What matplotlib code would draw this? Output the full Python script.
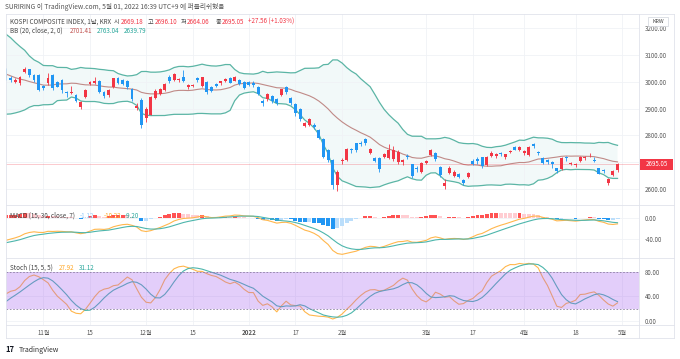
import numpy as np
import pandas as pd
import matplotlib
matplotlib.use("Agg")
import matplotlib.pyplot as plt
from matplotlib.patches import Rectangle
from matplotlib.lines import Line2D

plt.rcParams['font.family'] = ['Noto Sans CJK KR', 'DejaVu Sans']

# ---- off-screen history (only to seed the indicators) ----
seed_close = [3282, 3281, 3293, 3305, 3285, 3252, 3217, 3246, 3271, 3264, 3286, 3276, 3244, 3232,
              3216, 3250, 3254, 3224, 3232, 3236, 3242, 3202,
              3223, 3237, 3280, 3276, 3270, 3260, 3243, 3220, 3208, 3171, 3143, 3158, 3097, 3060,
              3090, 3138, 3129, 3128, 3133, 3144, 3199]
warm_close = [3207, 3175, 3201, 3203, 3187, 3162, 3114, 3125, 3127, 3148, 3153, 3130, 3140, 3127,
              3125, 3133, 3097, 3060, 3068, 3019, 2962, 2908, 2959, 2956, 2916, 2944, 2988, 3015,
              3006, 3013]
warm_high = [3210, 3210, 3205, 3215, 3205, 3190, 3160, 3135, 3140, 3155, 3160, 3155, 3150, 3140,
             3135, 3145, 3135, 3090, 3090, 3068, 3020, 2970, 2975, 2965, 2960, 2950, 2990, 3020,
             3035, 3020]
warm_low = [3170, 3170, 3185, 3195, 3175, 3155, 3105, 3110, 3110, 3120, 3140, 3125, 3120, 3110,
            3110, 3105, 3090, 3040, 3045, 3015, 2955, 2900, 2920, 2940, 2910, 2915, 2955, 2995,
            3000, 2995]

# ---- visible daily bars (2021-10-20 .. 2022-04-29) ----
opens = [3046, 3016, 3001, 2998, 3036, 3047, 3025, 3026, 2985, 2995,
         3026, 3000, 3006, 2964, 2960, 2950, 2908, 2945, 2993, 2998,
         3005, 2962, 2951, 2982, 3014, 3006, 3005, 2973, 2903, 2933,
         2864, 2878, 2939, 2955, 2970, 3020, 3007, 3008, 3020, 2983,
         2985, 3014, 2985, 3001, 2980, 2994, 2998, 3005, 3014, 3005,
         3006, 3001, 3001, 2998, 2982, 2930, 2935, 2948, 2935, 2951,
         2980, 2939, 2918, 2898, 2836, 2840, 2840, 2820, 2786, 2746,
         2708, 2615, 2703, 2708, 2749, 2771, 2773, 2786, 2736, 2717,
         2715, 2719, 2715, 2711, 2702, 2700, 2722, 2692, 2678, 2665,
         2699, 2727, 2736, 2683, 2612, 2661, 2650, 2656, 2634, 2646,
         2705, 2712, 2718, 2690, 2723, 2722, 2736, 2718, 2738, 2758,
         2746, 2736, 2727, 2768, 2740, 2715, 2708, 2702, 2677, 2674,
         2719, 2692, 2688, 2706, 2714, 2726, 2708, 2677, 2670, 2621,
         2652, 2669.18]
highs = [3052, 3022, 3014, 3024, 3055, 3050, 3028, 3030, 2990, 3035,
         3030, 3005, 3010, 2968, 2985, 2955, 2930, 2972, 3002, 3020,
         3008, 2965, 2975, 3016, 3018, 3010, 3008, 2976, 2920, 2940,
         2905, 2948, 2972, 2978, 2995, 3025, 3032, 3015, 3043, 2992,
         2993, 3018, 3018, 3003, 2986, 2998, 3003, 3015, 3018, 3022,
         3010, 3003, 3005, 3002, 2985, 2935, 2958, 2950, 2940, 2975,
         2985, 2942, 2920, 2902, 2850, 2866, 2845, 2825, 2790, 2750,
         2712, 2670, 2715, 2752, 2755, 2773, 2778, 2790, 2752, 2720,
         2718, 2735, 2770, 2760, 2745, 2712, 2730, 2695, 2685, 2702,
         2710, 2750, 2740, 2685, 2636, 2685, 2672, 2660, 2638, 2662,
         2712, 2718, 2720, 2725, 2742, 2735, 2740, 2732, 2745, 2762,
         2760, 2745, 2760, 2772, 2742, 2718, 2712, 2705, 2680, 2720,
         2725, 2700, 2697, 2722, 2725, 2735, 2720, 2680, 2675, 2642,
         2672, 2696.10]
lows = [3008, 3000, 2995, 2990, 3032, 3020, 3000, 2965, 2970, 2990,
        2970, 2980, 2960, 2945, 2955, 2925, 2900, 2940, 2988, 2993,
        2960, 2940, 2945, 2978, 2994, 2990, 2975, 2930, 2895, 2827,
        2850, 2875, 2935, 2950, 2965, 2998, 3003, 3000, 3000, 2975,
        2980, 3000, 2983, 2955, 2962, 2980, 2990, 3000, 2995, 3002,
        2990, 2975, 2985, 2980, 2950, 2912, 2930, 2920, 2915, 2948,
        2955, 2915, 2873, 2855, 2830, 2835, 2825, 2785, 2714, 2700,
        2600, 2591, 2695, 2705, 2735, 2740, 2760, 2765, 2730, 2700,
        2665, 2715, 2712, 2705, 2695, 2690, 2712, 2640, 2665, 2660,
        2695, 2722, 2705, 2645, 2600, 2655, 2645, 2640, 2615, 2640,
        2690, 2695, 2680, 2686, 2720, 2715, 2725, 2712, 2735, 2744,
        2742, 2728, 2724, 2755, 2728, 2692, 2692, 2680, 2660, 2670,
        2705, 2688, 2682, 2702, 2710, 2720, 2700, 2655, 2660, 2615,
        2648, 2664.06]
closes = [3013, 3007, 3006, 3020, 3049, 3025, 3009, 2971, 2979, 3013,
          2976, 2983, 2969, 2960, 2962, 2930, 2925, 2969, 2999, 3003,
          2962, 2947, 2971, 3013, 2997, 2994, 2980, 2936, 2909, 2839,
          2900, 2945, 2968, 2973, 2992, 3002, 3030, 3010, 3002, 2988,
          2989, 3006, 3017, 2963, 2966, 2986, 3002, 3010, 2998, 3020,
          2993, 2978, 2989, 2987, 2954, 2921, 2955, 2927, 2920, 2972,
          2962, 2922, 2885, 2862, 2845, 2863, 2832, 2792, 2720, 2709,
          2614, 2663, 2707, 2750, 2745, 2746, 2768, 2771, 2748, 2704,
          2676, 2730, 2745, 2744, 2740, 2707, 2719, 2649, 2675, 2699,
          2704, 2747, 2713, 2651, 2624, 2680, 2663, 2646, 2621, 2659,
          2695, 2706, 2686, 2721, 2736, 2730, 2730, 2729, 2741, 2747,
          2757, 2741, 2758, 2760, 2735, 2696, 2700, 2693, 2667, 2716,
          2716, 2696, 2693, 2719, 2719, 2728, 2705, 2657, 2668, 2639,
          2667, 2695.05]

holidays = ['2021-12-31', '2022-01-31', '2022-02-01', '2022-02-02', '2022-03-01', '2022-03-09']
dates = [d for d in pd.bdate_range('2021-10-20', '2022-04-29') if d.strftime('%Y-%m-%d') not in holidays]

tick_dates = ['2021-11-01', '2021-11-15', '2021-12-01', '2021-12-15', '2022-01-03', '2022-01-17',
              '2022-02-03', '2022-03-02', '2022-03-17', '2022-04-01', '2022-04-18', '2022-05-02']
tick_labels = ['11월', '15', '12월', '15', '2022', '17', '2월', '3월', '17', '4월', '18', '5월']

price_ticks = [2600, 2700, 2800, 2900, 3000, 3100, 3200]

# ---- indicators ----
n = len(closes)
n_pre = len(seed_close) + len(warm_close)
C = pd.Series(seed_close + warm_close + closes, dtype=float)
H = pd.Series([np.nan] * len(seed_close) + warm_high + highs, dtype=float)
L = pd.Series([np.nan] * len(seed_close) + warm_low + lows, dtype=float)
xall = np.arange(-n_pre, n)

basis = C.rolling(20).mean()
sd = C.rolling(20).std(ddof=0)
upper = basis + 2 * sd
lower = basis - 2 * sd

macd = C.ewm(span=15, adjust=False).mean() - C.ewm(span=30, adjust=False).mean()
signal = macd.ewm(span=7, adjust=False).mean()
hist = macd - signal

hh = H.rolling(15).max()
ll = L.rolling(15).min()
k = (100 * (C - ll) / (hh - ll)).rolling(5).mean()
d = k.rolling(5).mean()

# ---- figure ----
W, Hpx = 680, 359
fig = plt.figure(figsize=(W / 100, Hpx / 100), dpi=100)
fig.patch.set_facecolor('white')

def fx(x):
    return x / W

def fy(y):
    return 1 - y / Hpx

xl, xr = 5.5, 639
def add_ax(ytop, ybot):
    return fig.add_axes([fx(xl), fy(ybot), fx(xr) - fx(xl), fy(ytop) - fy(ybot)])

ax_p = add_ax(14, 205)
ax_m = add_ax(205, 258)
ax_s = add_ax(258, 325)

xlim = (-0.11, 135.6)
tick_pos = [dates.index(pd.Timestamp(t)) if pd.Timestamp(t) in dates else n for t in tick_dates]
grid_c = '#f0f2f6'
lab_c = '#555555'
fs = 4.4

for ax in (ax_p, ax_m, ax_s):
    ax.set_xlim(*xlim)
    for sp in ax.spines.values():
        sp.set_visible(False)
    ax.set_xticks(tick_pos)
    ax.grid(True, axis='both', color=grid_c, lw=0.6, zorder=0)
    ax.yaxis.tick_right()
    ax.tick_params(axis='y', length=0, labelsize=fs, labelcolor=lab_c, pad=4.3)
    ax.tick_params(axis='x', length=0, labelbottom=False)
    ax.set_facecolor('none')

# price panel
up_c, dn_c = '#f23645', '#2196f3'
vis = slice(n_pre, None)
xs = np.arange(n)
ax_p.fill_between(xall, lower, upper, color='#26a69a', alpha=0.06, lw=0, zorder=1)
ax_p.plot(xall, upper, color='#5bb5a5', lw=0.9, zorder=2)
ax_p.plot(xall, lower, color='#5bb5a5', lw=0.9, zorder=2)
ax_p.plot(xall, basis, color='#c08a87', lw=0.8, zorder=2)
ax_p.axhline(closes[-1], color='#f23645', lw=0.6, alpha=0.3, zorder=2)
for i in range(n):
    o, h, l, c = opens[i], highs[i], lows[i], closes[i]
    col = up_c if c >= o else dn_c
    ax_p.vlines(xs[i], l, h, color=col, lw=0.6, zorder=3)
    ax_p.bar(xs[i], max(abs(c - o), 1.5), bottom=min(o, c), width=0.62, color=col, lw=0, zorder=4)
ax_p.set_ylim(2540.2, 3254)
ax_p.set_yticks(price_ticks)
ax_p.set_yticklabels(['2600.00', '', '2800.00', '2900.00', '3000.00', '3100.00', '3200.00'])

# MACD panel
hv = hist.values
hcols = []
for i in range(len(hv)):
    prev = hv[i - 1] if i > 0 else 0
    if hv[i] >= 0:
        hcols.append('#ff5252' if hv[i] > prev else '#ffcdd2')
    else:
        hcols.append('#2196f3' if hv[i] < prev else '#bbdefb')
ax_m.bar(xall, hv, width=0.85, color=hcols, lw=0, zorder=2)
ax_m.plot(xall, macd, color='#ffb74d', lw=0.8, zorder=3)
ax_m.plot(xall, signal, color='#4db6ac', lw=0.8, zorder=3)
ax_m.set_ylim(-74.6, 23.5)
ax_m.set_yticks([0, -40])
ax_m.set_yticklabels(['0.00', '-40.00'])

# Stoch panel
ax_s.plot(xall, k, color='#ffb74d', lw=0.8, zorder=2)
ax_s.plot(xall, d, color='#4db6ac', lw=0.8, zorder=2)
ax_s.axhspan(20, 80, color='#a45ef0', alpha=0.3, lw=0, zorder=3)
for lv in (20, 80):
    ax_s.axhline(lv, color='#8c7fa0', lw=0.6, ls=(0, (2, 2)), zorder=4)
ax_s.set_ylim(-6.5, 102)
ax_s.set_yticks([0, 40, 80])
ax_s.set_yticklabels(['0.00', '40.00', '80.00'])
ax_s.tick_params(axis='x', labelbottom=True, labelsize=fs, labelcolor=lab_c, pad=3)
ax_s.set_xticklabels(tick_labels)
for t in ax_s.get_xticklabels():
    if t.get_text() == '2022':
        t.set_fontweight('bold')

# frame lines
fc = '#e0e3eb'
for y in (14, 205, 258, 325, 338):
    fig.add_artist(Line2D([fx(5.5), fx(674)], [fy(y), fy(y)], color=fc, lw=0.6))
for x in (5.5, 639, 674):
    fig.add_artist(Line2D([fx(x), fx(x)], [fy(14), fy(338)], color=fc, lw=0.6))

# price label box
fig.add_artist(Rectangle((fx(640), fy(169.5)), fx(33), 10.5 / Hpx, facecolor='#f23645',
                         edgecolor='none', transform=fig.transFigure))
fig.text(fx(656.5), fy(164.2), '2695.05', color='white', fontsize=fs, ha='center', va='center')

# KRW badge
fig.add_artist(Rectangle((fx(648), fy(26)), fx(20), 9 / Hpx, facecolor='white',
                         edgecolor='#d1d4dc', lw=0.5, transform=fig.transFigure))
fig.text(fx(658), fy(21.5), 'KRW', color='#444444', fontsize=3.9, ha='center', va='center')

def ftxt(x, y, s, color, size=4.5, weight='normal'):
    fig.text(fx(x), fy(y), s, color=color, fontsize=size, ha='left', va='center', fontweight=weight)

txt_c = '#444444'
red_c = '#f23645'
ftxt(5, 7, 'SURIRING 이 TradingView.com, 5월 01, 2022 16:39 UTC+9 에 퍼블리쉬했음', '#555555', 4.8)

ftxt(9.5, 22, 'KOSPI COMPOSITE INDEX, 1날, KRX', txt_c)
ftxt(114, 22, '시', txt_c); ftxt(120.5, 22, '2669.18', red_c)
ftxt(148, 22, '고', txt_c); ftxt(154.5, 22, '2696.10', red_c)
ftxt(180.5, 22, '저', txt_c); ftxt(187, 22, '2664.06', red_c)
ftxt(215.5, 22, '종', txt_c); ftxt(222, 22, '2695.05', red_c)
ftxt(248, 22, '+27.56 (+1.03%)', red_c)

ftxt(9.5, 31, 'BB (20, close, 2, 0)', txt_c)
ftxt(70, 31, '2701.41', '#c0504d')
ftxt(96.5, 31, '2763.04', '#26a69a')
ftxt(124, 31, '2639.79', '#26a69a')

ftxt(9.5, 215.5, 'MACD (15, 30, close, 7)', txt_c)
ftxt(80, 215.5, '-1.12', '#90caf9')
ftxt(104, 215.5, '-10.32', '#ffa726')
ftxt(125, 215.5, '-9.20', '#26a69a')

ftxt(9.5, 267.5, 'Stoch (15, 5, 5)', txt_c)
ftxt(59, 267.5, '27.92', '#ffa726')
ftxt(78.5, 267.5, '31.12', '#26a69a')

ftxt(5, 350, '17', '#131722', 5.5, 'bold')
ftxt(18.5, 350, 'TradingView', '#333333', 5)

fig.savefig('out.png', dpi=100, facecolor='white')
